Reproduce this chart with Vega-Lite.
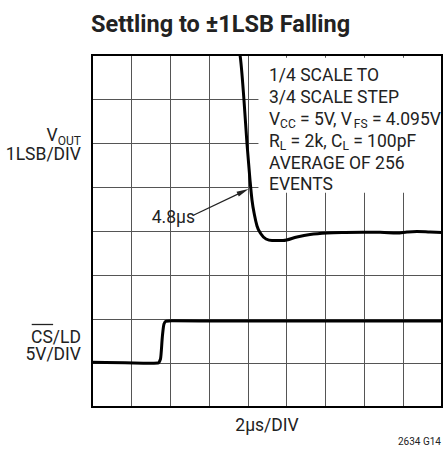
{
  "$schema": "https://vega.github.io/schema/vega-lite/v6.json",
  "autosize": "none",
  "width": 350,
  "height": 352,
  "padding": {"left": 92, "top": 55, "right": 4, "bottom": 42},
  "background": "white",
  "config": {
    "view": {"stroke": null},
    "text": {"font": "Roboto", "color": "#222", "baseline": "alphabetic"}
  },
  "datasets": {
    "box": [{"x": 4.28, "x2": 9, "y": 4.87, "y2": 7.94}],
    "frame": [{"x": 0, "x2": 9, "y": 0, "y2": 8}],
    "traces": [
      {"s": "vout", "x": 3.78, "y": 8.11},
      {"s": "vout", "x": 3.806, "y": 8.0},
      {"s": "vout", "x": 3.908, "y": 6.977},
      {"s": "vout", "x": 3.986, "y": 5.977},
      {"s": "vout", "x": 4.063, "y": 5.159},
      {"s": "vout", "x": 4.114, "y": 4.705},
      {"s": "vout", "x": 4.178, "y": 4.364},
      {"s": "vout", "x": 4.243, "y": 4.114},
      {"s": "vout", "x": 4.346, "y": 3.932},
      {"s": "vout", "x": 4.474, "y": 3.818},
      {"s": "vout", "x": 4.628, "y": 3.784},
      {"s": "vout", "x": 4.911, "y": 3.784},
      {"s": "vout", "x": 5.271, "y": 3.864},
      {"s": "vout", "x": 5.605, "y": 3.92},
      {"s": "vout", "x": 6.043, "y": 3.955},
      {"s": "vout", "x": 6.506, "y": 3.966},
      {"s": "vout", "x": 6.969, "y": 3.97},
      {"s": "vout", "x": 7.406, "y": 3.97},
      {"s": "vout", "x": 7.843, "y": 3.955},
      {"s": "vout", "x": 8.1, "y": 3.977},
      {"s": "vout", "x": 8.357, "y": 3.989},
      {"s": "vout", "x": 8.691, "y": 3.977},
      {"s": "vout", "x": 9.0, "y": 3.966},
      {"s": "cs", "x": 0, "y": 1.016},
      {"s": "cs", "x": 0.848, "y": 1.005},
      {"s": "cs", "x": 1.491, "y": 0.995},
      {"s": "cs", "x": 1.697, "y": 1.0},
      {"s": "cs", "x": 1.761, "y": 1.091},
      {"s": "cs", "x": 1.813, "y": 1.636},
      {"s": "cs", "x": 1.851, "y": 1.886},
      {"s": "cs", "x": 1.903, "y": 1.95},
      {"s": "cs", "x": 2.057, "y": 1.959},
      {"s": "cs", "x": 2.777, "y": 1.955},
      {"s": "cs", "x": 5.348, "y": 1.955},
      {"s": "cs", "x": 9.0, "y": 1.955}
    ],
    "arrowLine": [{"x": 2.62, "y": 4.364, "x2": 3.885, "y2": 4.895}],
    "arrowHead": [{"x": 3.885, "y": 4.895}],
    "overline": [{"x": -1.55, "x2": -1.0, "y": 1.875}],
    "textMain": [
      {"t": "1/4 SCALE TO", "x": 4.551, "y": 7.42},
      {"t": "3/4 SCALE STEP", "x": 4.551, "y": 6.92},
      {"t": "V", "x": 4.551, "y": 6.42},
      {"t": "= 5V, V", "x": 5.348, "y": 6.42},
      {"t": "= 4.095V", "x": 7.197, "y": 6.42},
      {"t": "R", "x": 4.551, "y": 5.92},
      {"t": "= 2k, C", "x": 5.107, "y": 5.92},
      {"t": "= 100pF", "x": 6.716, "y": 5.92},
      {"t": "AVERAGE OF 256", "x": 4.551, "y": 5.42},
      {"t": "EVENTS", "x": 4.551, "y": 4.943},
      {"t": "4.8µs", "x": 1.535, "y": 4.182}
    ],
    "textSub": [
      {"t": "CC", "x": 4.837, "y": 6.33},
      {"t": "FS", "x": 6.732, "y": 6.33},
      {"t": "L", "x": 4.829, "y": 5.83},
      {"t": "L", "x": 6.439, "y": 5.83},
      {"t": "OUT", "x": -0.882, "y": 5.955}
    ],
    "textRight": [
      {"t": "V", "x": -0.882, "y": 6.045},
      {"t": "1LSB/DIV", "x": -0.283, "y": 5.614},
      {"t": "CS/LD", "x": -0.283, "y": 1.4545},
      {"t": "5V/DIV", "x": -0.283, "y": 1.057}
    ],
    "textCenter": [{"t": "2µs/DIV", "x": 4.5, "y": -0.545}],
    "textTitle": [{"t": "Settling to ±1LSB Falling", "x": -0.026, "y": 8.534}],
    "textSmall": [{"t": "2634 G14", "x": 8.974, "y": -0.864}]
  },
  "encoding": {
    "x": {"field": "x", "type": "quantitative",
      "scale": {"domain": [0, 9], "nice": false, "zero": false},
      "axis": {"grid": true, "gridColor": "#555", "gridWidth": 1, "domain": false, "ticks": false, "labels": false, "title": null, "values": [0,1,2,3,4,5,6,7,8,9]}},
    "y": {"field": "y", "type": "quantitative",
      "scale": {"domain": [0, 8], "nice": false, "zero": false},
      "axis": {"grid": true, "gridColor": "#555", "gridWidth": 1, "domain": false, "ticks": false, "labels": false, "title": null, "values": [0,1,2,3,4,5,6,7,8]}}
  },
  "layer": [
    {"data": {"name": "box"}, "mark": {"type": "rect", "fill": "white", "stroke": null},
      "encoding": {"x2": {"field": "x2"}, "y2": {"field": "y2"}}},
    {"data": {"name": "traces"}, "mark": {"type": "line", "color": "black", "strokeWidth": 3, "interpolate": "monotone", "clip": true},
      "encoding": {"detail": {"field": "s"}}},
    {"data": {"name": "arrowLine"}, "mark": {"type": "rule", "color": "#222", "strokeWidth": 1.2},
      "encoding": {"x2": {"field": "x2"}, "y2": {"field": "y2"}}},
    {"data": {"name": "arrowHead"}, "mark": {"type": "point", "shape": "M1,0L-1,-0.45L-1,0.45Z", "size": 144, "angle": 335, "filled": true, "color": "#222", "opacity": 1},
      "encoding": {}},
    {"data": {"name": "overline"}, "mark": {"type": "rule", "color": "#222", "strokeWidth": 1.3},
      "encoding": {"x2": {"field": "x2"}}},
    {"data": {"name": "textMain"}, "mark": {"type": "text", "fontSize": 17.5, "align": "left"},
      "encoding": {"text": {"field": "t"}}},
    {"data": {"name": "textSub"}, "mark": {"type": "text", "fontSize": 12, "align": "left"},
      "encoding": {"text": {"field": "t"}}},
    {"data": {"name": "textRight"}, "mark": {"type": "text", "fontSize": 17.5, "align": "right"},
      "encoding": {"text": {"field": "t"}}},
    {"data": {"name": "textCenter"}, "mark": {"type": "text", "fontSize": 17.5, "align": "center"},
      "encoding": {"text": {"field": "t"}}},
    {"data": {"name": "textTitle"}, "mark": {"type": "text", "fontSize": 23.5, "fontWeight": "bold", "align": "left"},
      "encoding": {"text": {"field": "t"}}},
    {"data": {"name": "textSmall"}, "mark": {"type": "text", "fontSize": 10, "align": "right"},
      "encoding": {"text": {"field": "t"}}},
    {"data": {"name": "frame"}, "mark": {"type": "rect", "fill": null, "stroke": "black", "strokeWidth": 2},
      "encoding": {"x2": {"field": "x2"}, "y2": {"field": "y2"}}}
  ]
}
